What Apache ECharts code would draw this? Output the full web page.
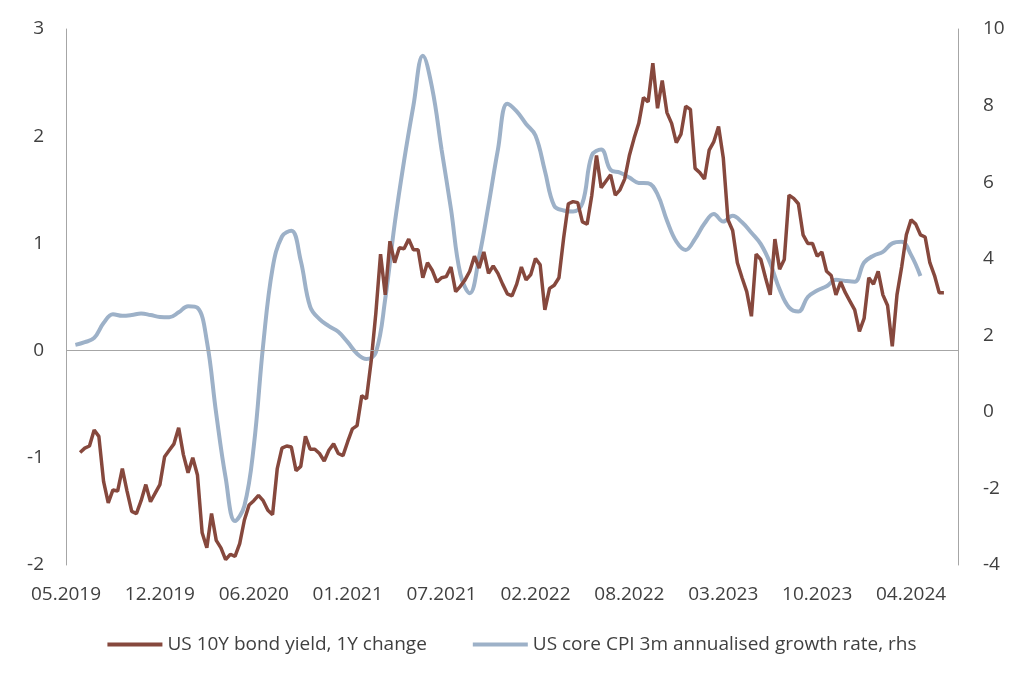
<!DOCTYPE html>
<html>
<head>
<meta charset="utf-8">
<script src="https://cdn.jsdelivr.net/npm/echarts@6/dist/echarts.min.js"></script>
<style>
html,body{margin:0;padding:0;background:#fff;}
#chart{width:1024px;height:683px;}
</style>
</head>
<body>
<div id="chart"></div>
<script>
// Tick labels of the date axis (one every POINTS_PER_LABEL observations)
const tickLabels = ["05.2019","12.2019","06.2020","01.2021","07.2021","02.2022","08.2022","03.2023","10.2023","04.2024"];
const POINTS_PER_LABEL = 20;
const N_POINTS = 191;

// US 10Y bond yield, 1Y change (lhs), observations from index 3 on
const BOND_START = 3;
const bondYieldChange = [
-0.95,-0.91,-0.89,-0.74,-0.80,-1.22,-1.42,-1.30,-1.31,-1.10,
-1.31,-1.50,-1.52,-1.40,-1.25,-1.41,-1.33,-1.25,-0.99,-0.93,
-0.87,-0.72,-0.97,-1.14,-1.00,-1.16,-1.70,-1.84,-1.52,-1.77,
-1.84,-1.95,-1.90,-1.92,-1.80,-1.58,-1.44,-1.40,-1.35,-1.40,
-1.49,-1.53,-1.10,-0.91,-0.89,-0.90,-1.12,-1.08,-0.80,-0.92,
-0.92,-0.96,-1.03,-0.93,-0.87,-0.96,-0.98,-0.85,-0.73,-0.70,
-0.42,-0.45,-0.10,0.35,0.90,0.52,1.02,0.82,0.96,0.95,
1.04,0.94,0.94,0.68,0.82,0.75,0.64,0.68,0.69,0.78,
0.55,0.60,0.66,0.74,0.88,0.77,0.92,0.72,0.79,0.72,
0.62,0.53,0.51,0.62,0.78,0.66,0.71,0.86,0.80,0.38,
0.58,0.61,0.68,1.05,1.37,1.39,1.38,1.20,1.18,1.45,
1.82,1.52,1.58,1.64,1.45,1.50,1.60,1.82,1.98,2.12,
2.36,2.32,2.68,2.26,2.52,2.22,2.12,1.94,2.02,2.28,
2.25,1.70,1.66,1.60,1.87,1.95,2.09,1.80,1.22,1.12,
0.82,0.68,0.55,0.32,0.90,0.85,0.68,0.52,1.04,0.76,
0.85,1.45,1.42,1.37,1.08,1.00,1.00,0.88,0.92,0.74,
0.70,0.52,0.64,0.54,0.46,0.38,0.18,0.30,0.68,0.62,
0.74,0.52,0.42,0.04,0.52,0.78,1.08,1.22,1.18,1.08,
1.06,0.82,0.70,0.54,0.54
];

// US core CPI 3m annualised growth rate (rhs), monthly; on a coarser hidden axis
// (one slot = 2 observations of the main axis), starting at slot 1
const CPI_STEP = 2;
const CPI_START_SLOT = 1;
const coreCpi3m = [
1.75,1.82,1.93,2.32,2.55,2.51,2.53,2.57,2.53,2.48,
2.47,2.60,2.76,2.72,1.85,-0.05,-1.72,-2.85,-2.45,-0.90,
1.75,3.75,4.58,4.73,3.95,2.75,2.42,2.24,2.09,1.82,
1.52,1.38,1.55,2.95,4.90,6.55,8.00,9.30,8.45,6.85,
5.30,3.60,3.10,4.05,5.40,6.85,8.05,7.85,7.52,7.22,
6.30,5.38,5.26,5.23,5.45,6.70,6.85,6.32,6.25,6.12,
5.98,5.97,5.68,5.00,4.45,4.23,4.52,4.92,5.17,4.97,
5.12,4.95,4.68,4.38,3.88,3.20,2.73,2.62,3.00,3.17,
3.28,3.45,3.42,3.40,3.90,4.08,4.18,4.40,4.44,4.10,
3.55
];

const seriesNames = ["US 10Y bond yield, 1Y change", "US core CPI 3m annualised growth rate, rhs"];

// build category axes & aligned series
const categories = [];
for (let i = 0; i < N_POINTS; i++) {
  categories.push(i % POINTS_PER_LABEL === 0 ? tickLabels[i / POINTS_PER_LABEL] : 'p' + i);
}
const bondData = new Array(N_POINTS).fill(null);
bondYieldChange.forEach((v, k) => { bondData[BOND_START + k] = v; });

const N_SLOTS = (N_POINTS - 1) / CPI_STEP + 1;
const cpiCategories = [];
for (let k = 0; k < N_SLOTS; k++) cpiCategories.push('m' + k);
const cpiData = new Array(N_SLOTS).fill(null);
coreCpi3m.forEach((v, k) => { cpiData[CPI_START_SLOT + k] = v; });

const FONT = '"Open Sans", "Noto Sans", sans-serif';
const TXT = '#404040';
const AX = '#a6a6a6';

const chart = echarts.init(document.getElementById('chart'), null, {renderer: 'canvas'});
chart.setOption({
  animation: false,
  backgroundColor: '#ffffff',
  grid: {left: 66, right: 66, top: 29, bottom: 118, containLabel: false},
  legend: {
    data: seriesNames,
    bottom: 24,
    left: 'center',
    icon: 'rect',
    itemWidth: 55,
    itemHeight: 4,
    itemGap: 46,
    textStyle: {fontFamily: FONT, fontSize: 19, color: TXT}
  },
  xAxis: [
    {
      type: 'category',
      data: categories,
      boundaryGap: false,
      axisLine: {show: false},
      axisTick: {show: false},
      splitLine: {show: false},
      axisLabel: {
        interval: (idx) => idx % POINTS_PER_LABEL === 0,
        formatter: (v, idx) => (idx % POINTS_PER_LABEL === 0 ? tickLabels[idx / POINTS_PER_LABEL] : ''),
        fontFamily: FONT, fontSize: 19, color: TXT, margin: 20
      }
    },
    {
      type: 'category',
      data: cpiCategories,
      boundaryGap: false,
      show: false
    }
  ],
  yAxis: [
    {
      type: 'value', min: -2, max: 3, interval: 1, position: 'left',
      axisLine: {show: true, lineStyle: {color: AX, width: 1}},
      axisTick: {show: false},
      splitLine: {show: false},
      axisLabel: {fontFamily: FONT, fontSize: 19, color: TXT, margin: 22}
    },
    {
      type: 'value', min: -4, max: 10, interval: 2, position: 'right',
      axisLine: {show: true, lineStyle: {color: AX, width: 1}},
      axisTick: {show: false},
      splitLine: {show: false},
      axisLabel: {fontFamily: FONT, fontSize: 19, color: TXT, margin: 25}
    }
  ],
  series: [
    {
      name: seriesNames[0],
      type: 'line',
      xAxisIndex: 0,
      yAxisIndex: 0,
      data: bondData,
      showSymbol: false,
      symbol: 'none',
      color: '#86483d',
      lineStyle: {color: '#86483d', width: 3.5},
      z: 3,
      markLine: {
        silent: true,
        symbol: ['none', 'none'],
        label: {show: false},
        lineStyle: {color: AX, width: 1, type: 'solid'},
        data: [{yAxis: 0}]
      }
    },
    {
      name: seriesNames[1],
      type: 'line',
      xAxisIndex: 1,
      yAxisIndex: 1,
      data: cpiData,
      smooth: 0.4,
      showSymbol: false,
      symbol: 'none',
      color: '#9db1c8',
      lineStyle: {color: '#9db1c8', width: 4},
      z: 2
    }
  ]
});
</script>
</body>
</html>
